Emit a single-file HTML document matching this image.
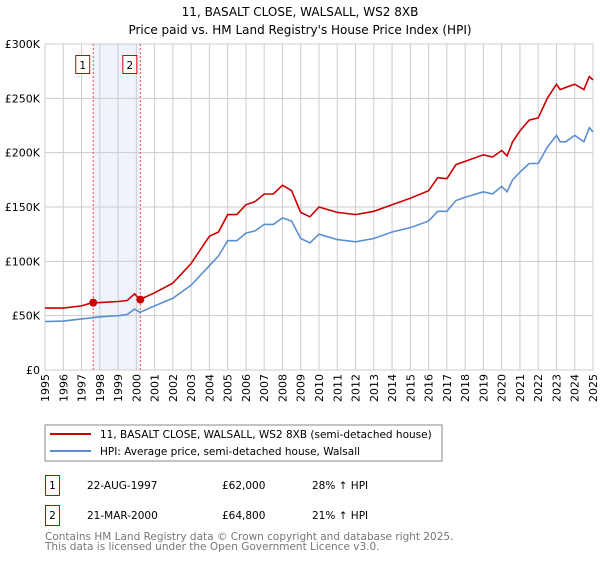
<!DOCTYPE html>
<html><head><meta charset="utf-8"><style>
body{margin:0;background:#fff;font-family:"DejaVu Sans","Liberation Sans",sans-serif;}
svg text{font-family:"DejaVu Sans","Liberation Sans",sans-serif;}
</style></head><body>
<svg id="chart" width="600" height="560" xmlns="http://www.w3.org/2000/svg">
<text x="300" y="16" text-anchor="middle" font-size="12">11, BASALT CLOSE, WALSALL, WS2 8XB</text>
<text x="300" y="34" text-anchor="middle" font-size="12">Price paid vs. HM Land Registry's House Price Index (HPI)</text>
<g id="grid"></g><g id="marks"></g><g id="axes"></g>
<rect x="45" y="425" width="397" height="36" fill="#fff" stroke="#888"/>
<line x1="50" y1="434" x2="91" y2="434" stroke="#cc0000" stroke-width="2"/>
<text x="100" y="438" font-size="10.5">11, BASALT CLOSE, WALSALL, WS2 8XB (semi-detached house)</text>
<line x1="50" y1="451" x2="91" y2="451" stroke="#5b8fd0" stroke-width="2"/>
<text x="100" y="455" font-size="10.5">HPI: Average price, semi-detached house, Walsall</text>
<rect x="45.5" y="475.5" width="14" height="20" fill="none" stroke="#cc0000"/>
<text x="52.5" y="489" font-size="10.5" text-anchor="middle">1</text>
<text x="87" y="489" font-size="10.5">22-AUG-1997</text>
<text x="222" y="489" font-size="10.5">£62,000</text>
<text x="312" y="489" font-size="10.5">28% ↑ HPI</text>
<rect x="45.5" y="505.5" width="14" height="20" fill="none" stroke="#cc0000"/>
<text x="52.5" y="519" font-size="10.5" text-anchor="middle">2</text>
<text x="87" y="519" font-size="10.5">21-MAR-2000</text>
<text x="222" y="519" font-size="10.5">£64,800</text>
<text x="312" y="519" font-size="10.5">21% ↑ HPI</text>
<text x="45" y="540" font-size="10.5" fill="#777">Contains HM Land Registry data © Crown copyright and database right 2025.</text>
<text x="45" y="550" font-size="10.5" fill="#777">This data is licensed under the Open Government Licence v3.0.</text>
</svg>
<script>
const yearTicks=[1995,1996,1997,1998,1999,2000,2001,2002,2003,2004,2005,2006,2007,2008,2009,2010,2011,2012,2013,2014,2015,2016,2017,2018,2019,2020,2021,2022,2023,2024,2025];
const priceTicks=[0,50,100,150,200,250,300];
const priceLabels=["£0","£50K","£100K","£150K","£200K","£250K","£300K"];
const hpiYears=[1995,1996,1997,1997.6,1998,1999,1999.5,1999.9,2000.2,2001,2002,2003,2004,2004.5,2005,2005.5,2006,2006.5,2007,2007.5,2008,2008.5,2009,2009.5,2010,2011,2012,2013,2014,2015,2016,2016.5,2017,2017.5,2018,2019,2019.5,2020,2020.3,2020.6,2021,2021.5,2022,2022.5,2023,2023.2,2023.5,2024,2024.5,2024.8,2025];
const hpiValues=[44.5,45,47,48,49,50,51,56,53,59,66,78,96,105,119,119,126,128,134,134,140,137,121,117,125,120,118,121,127,131,137,146,146,156,159,164,162,169,164,175,182,190,190,205,216,210,210,216,210,223,219];
const propValues=[57,57,59,62,62,63,64,70,65,71,80,98,123,127,143,143,152,155,162,162,170,165,145,141,150,145,143,146,152,158,165,177,176,189,192,198,196,202,197,210,220,230,232,250,263,258,260,263,258,270,267];
const saleYears=[1997.64,2000.22];
const salePrices=[62,64.8];
const saleLabels=["1","2"];
const NS="http://www.w3.org/2000/svg";
const X=y=>45+(y-1995)*(548/30);
const Y=v=>370-v*(326/300);
function mk(t,a,p){const e=document.createElementNS(NS,t);for(const k in a)e.setAttribute(k,a[k]);p.appendChild(e);return e;}
const grid=document.getElementById('grid'),marks=document.getElementById('marks'),axes=document.getElementById('axes');
const shade=mk('rect',{x:X(saleYears[0]),y:44,width:X(saleYears[1])-X(saleYears[0]),height:326,fill:'#eef3fc'},grid);


yearTicks.forEach(y=>{const l=mk('line',{x1:X(y),x2:X(y),y1:44,y2:370,stroke:'#ccc'},grid);


const t=mk('text',{x:0,y:0,'font-size':11,transform:`translate(${X(y)+4},${374}) rotate(-90)`,'text-anchor':'end'},axes);
t.textContent=y;

});
priceTicks.forEach((v,i)=>{const l=mk('line',{x1:45,x2:593,y1:Y(v),y2:Y(v),stroke:'#ccc'},grid);


const t=mk('text',{x:40,y:Y(v)+4,'font-size':11,'text-anchor':'end'},axes);
t.textContent=priceLabels[i];

});
saleYears.forEach((y,i)=>{const l=mk('line',{x1:X(y),x2:X(y),y1:44,y2:370,stroke:'#e05050','stroke-dasharray':'2,2'},grid);


const b=mk('rect',{x:X(y)-17.5,y:55.5,width:14,height:18,fill:'#fff',stroke:'#cc0000'},axes);


const t=mk('text',{x:X(y)-10.5,y:69,'font-size':10.5,'text-anchor':'middle'},axes);
t.textContent=saleLabels[i];

});
function path(vals){return hpiYears.map((y,i)=>(i?'L':'M')+X(y).toFixed(1)+','+Y(vals[i]).toFixed(1)).join('');}
const hp=mk('path',{d:path(hpiValues),fill:'none',stroke:'#5b8fd0','stroke-width':1.6},marks);


const pp=mk('path',{d:path(propValues),fill:'none',stroke:'#cc0000','stroke-width':1.6},marks);


saleYears.forEach((y,i)=>{const c=mk('circle',{cx:X(y),cy:Y(salePrices[i]),r:4,fill:'#cc0000'},marks);

});
</script>
</body></html>
